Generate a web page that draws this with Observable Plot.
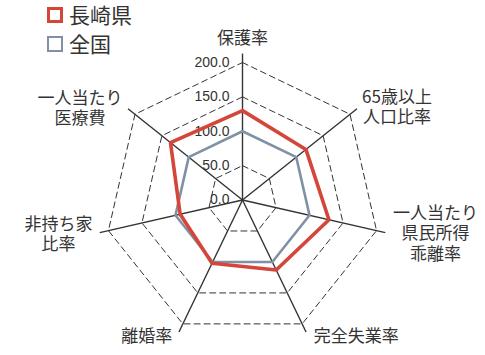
<!DOCTYPE html>
<html>
<head>
<meta charset="utf-8">
<script src="https://cdn.jsdelivr.net/npm/d3@7"></script>
<script src="https://cdn.jsdelivr.net/npm/@observablehq/plot@0.6"></script>
<style>
  body { margin: 0; background: #fff; }
  #wrap { position: relative; width: 485px; height: 355px; overflow: hidden; }
  #legend { position: absolute; left: 47px; top: 0px; font-family: "Noto Sans CJK JP", sans-serif; font-size: 21px; color: #333; line-height: 29px; }
  .item { display: flex; align-items: center; }
  .sw { display: inline-block; box-sizing: border-box; width: 16px; height: 16px; margin-right: 6px; }
</style>
</head>
<body>
<div id="wrap">
  <div id="chart"></div>
  <div id="legend"></div>
</div>
<script>
// ---- data ----
const categories = ["保護率", "65歳以上\n人口比率", "一人当たり\n県民所得\n乖離率", "完全失業率", "離婚率", "非持ち家\n比率", "一人当たり\n医療費"];
const nagasaki = [130, 118, 129, 113, 102, 93, 134];
const zenkoku = [100, 100, 100, 100, 100, 100, 100];
const ticks = [0, 50, 100, 150, 200];
const seriesNames = ["長崎県", "全国"];

// ---- layout / style ----
const W = 485, H = 355;
const cx = 242, cy = 199.5;
const k = 137.5 / 200; // px per unit
const colors = ["#d4463a", "#8191a3"];
const n = categories.length;
const ang = i => i * 2 * Math.PI / n;
const px = (i, v) => v * Math.sin(ang(i));
const py = (i, v) => v * Math.cos(ang(i));
const labelOffsets = [[0, -25], [47, -8], [59, 2], [54, 12], [-36, 12], [-50, 3], [-55, -7]];
const axisMax = 213;

const ringData = [];
ticks.filter(t => t > 0).forEach(t => {
  for (let i = 0; i <= n; i++) ringData.push({t, x: px(i % n, t), y: py(i % n, t)});
});
const axisData = categories.map((c, i) => ({x1: 0, y1: 0, x2: px(i, axisMax), y2: py(i, axisMax)}));
const seriesPts = (vals, name) => {
  const out = [];
  for (let i = 0; i <= n; i++) out.push({name, x: px(i % n, vals[i % n]), y: py(i % n, vals[i % n])});
  return out;
};

const labelMarks = categories.map((c, i) => Plot.text([i], {
  x: d => px(d, 200), y: d => py(d, 200), text: d => categories[d],
  dx: labelOffsets[i][0], dy: labelOffsets[i][1],
  fontSize: 17, lineHeight: 1.2, fill: "#333",
  fontFamily: "Noto Sans CJK JP, sans-serif", textAnchor: "middle", lineAnchor: "middle"
}));

const chart = Plot.plot({
  width: W, height: H,
  marginTop: 0, marginRight: 0, marginBottom: 0, marginLeft: 0,
  x: {domain: [-cx / k, (W - cx) / k], axis: null},
  y: {domain: [-(H - cy) / k, cy / k], axis: null},
  style: {background: "#fff"},
  marks: [
    Plot.line(ringData, {x: "x", y: "y", z: "t", stroke: "#333", strokeWidth: 1, strokeDasharray: "6,4"}),
    Plot.link(axisData, {x1: "x1", y1: "y1", x2: "x2", y2: "y2", stroke: "#333", strokeWidth: 1.4}),
    Plot.text(ticks, {x: 0, y: d => d, text: d => d.toFixed(1), textAnchor: "end", dx: -13, fontSize: 14, fill: "#333", fontFamily: "Liberation Sans, Arial, sans-serif"}),
    Plot.line(seriesPts(zenkoku, seriesNames[1]), {x: "x", y: "y", stroke: colors[1], strokeWidth: 2.6, strokeLinejoin: "miter"}),
    Plot.line(seriesPts(nagasaki, seriesNames[0]), {x: "x", y: "y", stroke: colors[0], strokeWidth: 3.6, strokeLinejoin: "miter"}),
    ...labelMarks
  ]
});
document.getElementById("chart").appendChild(chart);

const legend = document.getElementById("legend");
seriesNames.forEach((name, i) => {
  const item = document.createElement("div");
  item.className = "item";
  const sw = document.createElement("span");
  sw.className = "sw";
  sw.style.border = (i === 0 ? 3 : 2) + "px solid " + colors[i];
  item.appendChild(sw);
  item.appendChild(document.createTextNode(name));
  legend.appendChild(item);
});
</script>
</body>
</html>
